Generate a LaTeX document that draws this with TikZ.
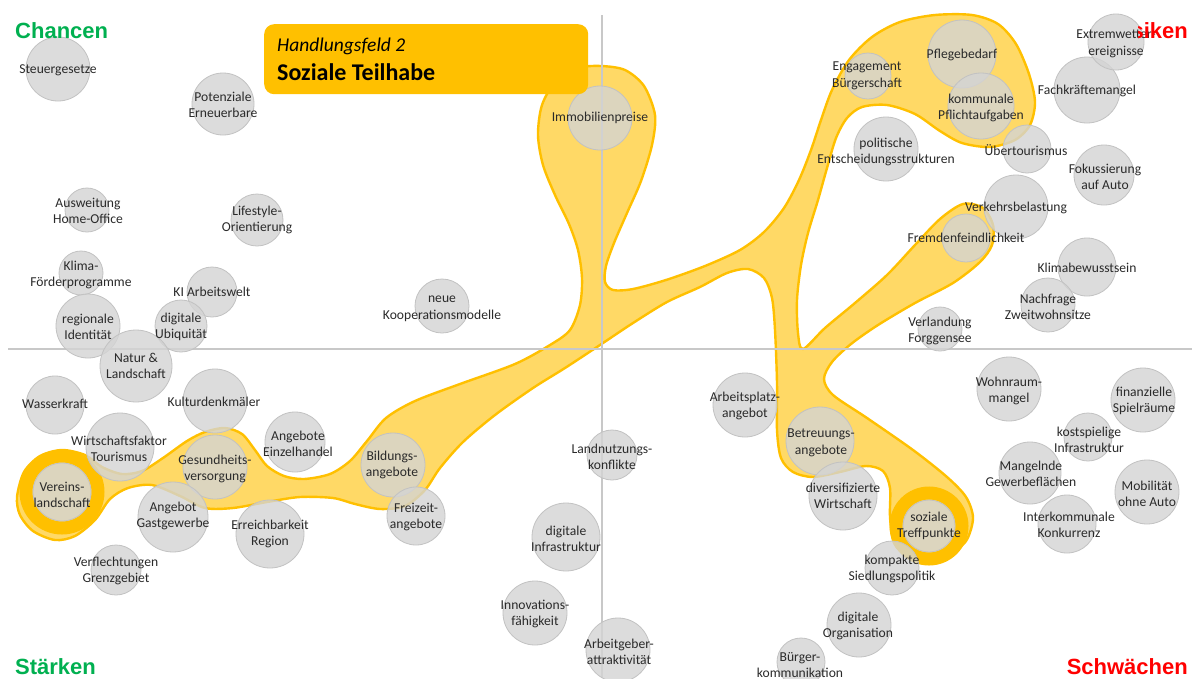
\documentclass[tikz,border=0pt]{standalone}
\usepackage{fontspec}
\setmainfont{Carlito}
\newfontfamily\headfont{Liberation Sans}

\definecolor{amber}{HTML}{FFC000}
\definecolor{paleamber}{HTML}{FFD966}
\definecolor{bubfill}{HTML}{D4D4D4}
\definecolor{bubedge}{HTML}{C2C2C2}
\definecolor{axisgray}{HTML}{C8C8C8}
\definecolor{labeltext}{HTML}{2A2A2A}
\definecolor{posgreen}{HTML}{00B050}
\definecolor{negred}{HTML}{FF0000}

\tikzset{
  bub/.style={circle, fill=bubfill, fill opacity=0.8, draw=bubedge, line width=0.8pt, inner sep=0pt},
  lbl/.style={align=center, inner sep=0pt, text=labeltext, font=\fontsize{13.6}{16.5}\selectfont},
  corner/.style={font=\headfont\bfseries\fontsize{22}{26}\selectfont, inner sep=0pt},
  axis/.style={draw=axisgray, line width=1.3pt},
  region/.style={fill=paleamber, draw=amber, line width=2.4pt, line join=round},
  focusring/.style={draw=amber, line width=13pt},
}

% circle node: name, x, y, diameter
\newcommand{\bubble}[4]{\node[bub, minimum size=#4pt] (#1) at (#2,#3) {};}

\begin{document}
\begin{tikzpicture}[x=1pt, y=-1pt]
\useasboundingbox (0,0) rectangle (1192,678);
\fill[white] (0,0) rectangle (1192,678);

% the highlighted field of action
\path[region] plot[smooth cycle, tension=0.5] coordinates {
 (17,497) (24,472) (40,456) (62,450) (85,455) (102,467) (122,474) (142,471)
 (163,458) (187,441) (205,432) (225,428) (242,434) (255,450) (267,466) (284,476)
 (304,479) (330,474) (350,461) (367,441) (386,418) (415,401) (460,384) (515,364)
 (550,345) (570,330) (580,305) (582,278) (578,250) (569,224) (555,195) (543,165)
 (538,135) (542,105) (556,81) (578,68) (601,66) (625,70) (644,86) (655,115)
 (652,145) (641,181) (627,213) (614,243) (606,266) (605,282) (613,290) (633,289)
 (666,280) (705,266) (740,250) (764,232) (784,208) (799,180) (811,150) (821,120)
 (832,90) (849,60) (872,37) (900,22) (935,15) (972,15) (998,24) (1016,44)
 (1029,74) (1035,102) (1030,125) (1015,140) (990,147) (962,143) (940,131) (915,114)
 (887,105) (862,107) (847,118) (836,138) (827,168) (818,200) (808,233) (801,265)
 (797,300) (798,333) (803,349) (825,328) (855,303) (887,275) (915,245) (940,219)
 (963,204) (983,208) (993,225) (992,245) (980,262) (953,283) (915,303) (878,325)
 (851,344) (832,362) (824,379) (833,395) (867,418) (913,450) (947,477) (966,497)
 (973,518) (966,541) (947,556) (927,562) (908,557) (894,543) (890,517) (890,488)
 (883,471) (866,466) (840,472) (813,477) (793,472) (781,458) (777,430) (777,383)
 (775,330) (772,298) (764,278) (748,269) (727,273) (700,287) (667,302) (633,323)
 (600,345) (565,368) (533,388) (495,415) (463,442) (440,468) (425,490) (405,506)
 (380,509) (355,504) (333,498) (300,497) (267,502) (233,508) (205,508) (180,496)
 (152,485) (128,488) (110,499) (95,520) (75,536) (55,540) (33,531) (20,515)
};

% centres of the two emphasised topics
\coordinate (c-verein) at (62,492);
\coordinate (c-treff) at (929,526);
\draw[focusring] (c-verein) circle[radius=36];
\draw[focusring] (c-treff) circle[radius=33];

% quadrant axes
\coordinate (axL) at (8,349);
\coordinate (axR) at (1192,349);
\coordinate (axT) at (602,15);
\coordinate (axB) at (602,678);
\draw[axis] (axL) -- (axR);
\draw[axis] (axT) -- (axB);

% topic circles
\bubble{steuer}{58}{69}{64}
\bubble{potenz}{223}{104}{62}
\bubble{homeoff}{87}{210}{44}
\bubble{lifestyle}{257}{220}{52}
\bubble{klima}{81}{273}{44}
\bubble{kiarbeit}{212}{292}{50}
\bubble{regid}{88}{326}{64}
\bubble{digubi}{181}{326}{52}
\bubble{natur}{136}{366}{72}
\bubble{wasser}{55}{405}{58}
\bubble{kultur}{215}{401}{64}
\bubble{einzel}{295}{442}{60}
\bubble{wirtsch}{120}{447}{68}
\bubble{gesund}{215}{467}{64}
\node[bub, minimum size=58pt] (verein) at (c-verein) {};
\bubble{gast}{173}{517}{70}
\bubble{erreich}{270}{534}{68}
\bubble{bildung}{393}{465}{64}
\bubble{freizeit}{416}{516}{58}
\bubble{verflecht}{116}{570}{50}
\bubble{koop}{442}{306}{54}
\bubble{arbplatz}{745}{405}{64}
\bubble{landnutz}{612}{455}{50}
\bubble{diginfra}{566}{537}{68}
\bubble{innov}{535}{613}{64}
\bubble{arbgeber}{618}{650}{64}
\bubble{betreu}{820}{441}{68}
\bubble{divers}{843}{496}{68}
\node[bub, minimum size=52pt] (treff) at (c-treff) {};
\bubble{kompakt}{892}{568}{54}
\bubble{digorg}{859}{625}{64}
\bubble{buerger}{801}{662}{48}
\bubble{engage}{868}{76}{46}
\bubble{pflege}{962}{54}{68}
\bubble{kommunal}{981}{106}{66}
\bubble{fachkr}{1087}{90}{66}
\bubble{extrem}{1116}{42}{56}
\bubble{polit}{886}{149}{64}
\bubble{uebertour}{1027}{149}{48}
\bubble{fokus}{1104}{175}{60}
\bubble{verkehr}{1016}{207}{64}
\bubble{fremden}{966}{238}{48}
\bubble{klimabew}{1087}{267}{58}
\bubble{nachfrage}{1048}{305}{54}
\bubble{verland}{940}{329}{44}
\bubble{wohnraum}{1009}{389}{64}
\bubble{finanz}{1143}{400}{64}
\bubble{kostsp}{1088}{437}{48}
\bubble{mangelnd}{1030}{473}{62}
\bubble{mobil}{1147}{492}{64}
\bubble{interk}{1067}{524}{58}
\bubble{immo}{600}{118}{64}

% topic labels
\node[lbl] (steuer-l) at (58,70) {Steuergesetze};
\node[lbl] (potenz-l) at (223,105) {Potenziale\\Erneuerbare};
\node[lbl] (homeoff-l) at (88,211) {Ausweitung\\Home-Office};
\node[lbl] (lifestyle-l) at (257,220) {Lifestyle-\\Orientierung};
\node[lbl] (klima-l) at (81,275) {Klima-\\Förderprogramme};
\node[lbl] (kiarbeit-l) at (212,292) {KI Arbeitswelt};
\node[lbl] (regid-l) at (88,327) {regionale\\Identität};
\node[lbl] (digubi-l) at (181,327) {digitale\\Ubiquität};
\node[lbl] (natur-l) at (136,366) {Natur \&\\Landschaft};
\node[lbl] (wasser-l) at (55,404) {Wasserkraft};
\node[lbl] (kultur-l) at (214,402) {Kulturdenkmäler};
\node[lbl] (einzel-l) at (298,444) {Angebote\\Einzelhandel};
\node[lbl] (wirtsch-l) at (119,449) {Wirtschaftsfaktor\\Tourismus};
\node[lbl] (gesund-l) at (215,469) {Gesundheits-\\versorgung};
\node[lbl] (verein-l) at (62,495) {Vereins-\\landschaft};
\node[lbl] (gast-l) at (173,516) {Angebot\\Gastgewerbe};
\node[lbl] (erreich-l) at (270,534) {Erreichbarkeit\\Region};
\node[lbl] (bildung-l) at (392,465) {Bildungs-\\angebote};
\node[lbl] (freizeit-l) at (416,517) {Freizeit-\\angebote};
\node[lbl] (verflecht-l) at (116,571) {Verflechtungen\\Grenzgebiet};
\node[lbl] (koop-l) at (442,309) {neue\\Kooperationsmodelle};
\node[lbl] (arbplatz-l) at (745,406) {Arbeitsplatz-\\angebot};
\node[lbl] (landnutz-l) at (612,457) {Landnutzungs-\\konflikte};
\node[lbl] (diginfra-l) at (566,539) {digitale\\Infrastruktur};
\node[lbl] (innov-l) at (535,614) {Innovations-\\fähigkeit};
\node[lbl] (arbgeber-l) at (619,652) {Arbeitgeber-\\attraktivität};
\node[lbl] (betreu-l) at (821,443) {Betreuungs-\\angebote};
\node[lbl] (divers-l) at (843,496) {diversifizierte\\Wirtschaft};
\node[lbl] (treff-l) at (929,526) {soziale\\Treffpunkte};
\node[lbl] (kompakt-l) at (892,569) {kompakte\\Siedlungspolitik};
\node[lbl] (digorg-l) at (858,626) {digitale\\Organisation};
\node[lbl] (buerger-l) at (800,665) {Bürger-\\kommunikation};
\node[lbl] (engage-l) at (867,76) {Engagement\\Bürgerschaft};
\node[lbl] (pflege-l) at (962,55) {Pflegebedarf};
\node[lbl] (kommunal-l) at (981,108) {kommunale\\Pflichtaufgaben};
\node[lbl] (fachkr-l) at (1087,91) {Fachkräftemangel};
\node[lbl] (extrem-l) at (1116,44) {Extremwetter-\\ereignisse};
\node[lbl] (polit-l) at (886,152) {politische\\Entscheidungsstrukturen};
\node[lbl] (uebertour-l) at (1026,150) {Übertourismus};
\node[lbl] (fokus-l) at (1105,177) {Fokussierung\\auf Auto};
\node[lbl] (verkehr-l) at (1016,208) {Verkehrsbelastung};
\node[lbl] (fremden-l) at (966,238) {Fremdenfeindlichkeit};
\node[lbl] (klimabew-l) at (1087,268) {Klimabewusstsein};
\node[lbl] (nachfrage-l) at (1048,307) {Nachfrage\\Zweitwohnsitze};
\node[lbl] (verland-l) at (940,331) {Verlandung\\Forggensee};
\node[lbl] (wohnraum-l) at (1009,391) {Wohnraum-\\mangel};
\node[lbl] (finanz-l) at (1144,401) {finanzielle\\Spielräume};
\node[lbl] (kostsp-l) at (1089,440) {kostspielige\\Infrastruktur};
\node[lbl] (mangelnd-l) at (1031,474) {Mangelnde\\Gewerbeflächen};
\node[lbl] (mobil-l) at (1147,494) {Mobilität\\ohne Auto};
\node[lbl] (interk-l) at (1069,525) {Interkommunale\\Konkurrenz};
\node[lbl] (immo-l) at (600,118) {Immobilienpreise};

% quadrant headings
\node[corner, text=posgreen, anchor=base west] (chancen) at (15,38) {Chancen};
\node[corner, text=posgreen, anchor=base west] (staerken) at (15,674) {Stärken};
\node[corner, text=negred, anchor=base east] (schwaechen) at (1188,674) {Schwächen};
\begin{scope}
  \clip (1138,0) rectangle (1192,60);
  \node[corner, text=negred, anchor=base east] (risiken) at (1188,38) {Risiken};
\end{scope}

% title card
\node[fill=amber, rounded corners=10pt, minimum width=324pt, minimum height=70pt,
      inner sep=0pt, anchor=north west] (titlebox) at (264,24) {};
\node[anchor=base west, inner sep=0pt, font=\itshape\fontsize{19.5}{22}\selectfont] (tline1) at (277,51) {Handlungsfeld 2};
\node[anchor=base west, inner sep=0pt, font=\bfseries\fontsize{24}{28}\selectfont] (tline2) at (277,80) {Soziale Teilhabe};
\end{tikzpicture}
\end{document}
